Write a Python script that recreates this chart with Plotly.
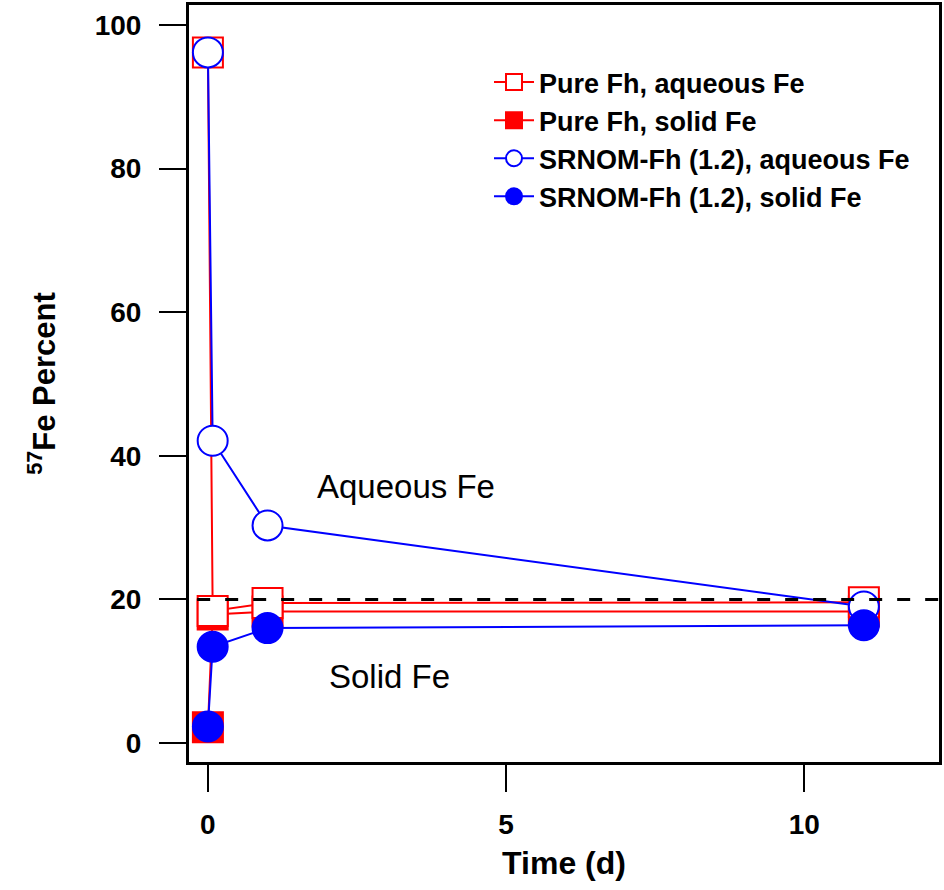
import plotly.graph_objects as go

# ---- data ----
time_d = [0.0, 0.08, 1.0, 11.0]
pure_aqueous = [96.2, 18.4, 19.5, 19.6]
pure_solid = [2.2, 17.9, 18.3, 18.3]
srnom_aqueous = [96.2, 42.1, 30.3, 19.0]
srnom_solid = [2.3, 13.4, 16.0, 16.4]

ref_x = [-0.18, 12.25]
ref_y = [20, 20]

x_ticks = [0, 5, 10]
y_ticks = [0, 20, 40, 60, 80, 100]

RED = "#FF0000"
BLUE = "#0000FF"
FONT = "Liberation Sans, Arial, sans-serif"

fig = go.Figure()

# draw order: pure solid first (hidden under open squares), then pure aqueous,
# then SRNOM aqueous, SRNOM solid; legend order set via legendrank
fig.add_trace(go.Scatter(
    x=time_d, y=pure_solid, mode="lines+markers", name="Pure Fh, solid Fe",
    line=dict(color=RED, width=2),
    marker=dict(symbol="square", size=30, color=RED, line=dict(color=RED, width=2)),
    legendrank=2,
))
fig.add_trace(go.Scatter(
    x=time_d, y=pure_aqueous, mode="lines+markers", name="Pure Fh, aqueous Fe",
    line=dict(color=RED, width=2),
    marker=dict(symbol="square", size=30, color="white", line=dict(color=RED, width=2)),
    legendrank=1,
))
fig.add_trace(go.Scatter(
    x=time_d, y=srnom_aqueous, mode="lines+markers", name="SRNOM-Fh (1.2), aqueous Fe",
    line=dict(color=BLUE, width=2),
    marker=dict(symbol="circle", size=30, color="white", line=dict(color=BLUE, width=2)),
    legendrank=3,
))
fig.add_trace(go.Scatter(
    x=time_d, y=srnom_solid, mode="lines+markers", name="SRNOM-Fh (1.2), solid Fe",
    line=dict(color=BLUE, width=2),
    marker=dict(symbol="circle", size=30, color=BLUE, line=dict(color=BLUE, width=2)),
    legendrank=4,
))
# dashed reference line on top
fig.add_trace(go.Scatter(
    x=ref_x, y=ref_y, mode="lines", showlegend=False, hoverinfo="skip",
    line=dict(color="black", width=3, dash="13px,15px"),
))

fig.add_annotation(x=1.79, y=35.7, xref="x", yref="y", text="Aqueous Fe",
                   showarrow=False, xanchor="left", yanchor="middle",
                   font=dict(family=FONT, size=33, color="black"))
fig.add_annotation(x=2.0, y=9.2, xref="x", yref="y", text="Solid Fe",
                   showarrow=False, xanchor="left", yanchor="middle",
                   font=dict(family=FONT, size=33, color="black"))

axis_common = dict(
    showline=True, linecolor="black", linewidth=3, mirror=True,
    ticks="outside", ticklen=27, tickwidth=2, tickcolor="black",
    showgrid=False, zeroline=False,
    tickfont=dict(family=FONT, size=28, color="black", weight="bold"),
)

fig.update_xaxes(
    range=[-0.317, 12.26], tickvals=x_ticks, ticktext=[str(v) for v in x_ticks],
    title=dict(text="<b>Time (d)</b>", font=dict(family=FONT, size=32, color="black"), standoff=14),
    ticklabelstandoff=8,
    **axis_common,
)
fig.update_yaxes(
    range=[-2.65, 102.8], tickvals=y_ticks, ticktext=[str(v) for v in y_ticks],
    title=dict(text="<b><sup>57</sup>Fe Percent</b>", font=dict(family=FONT, size=31, color="black"), standoff=30),
    ticklabelstandoff=12,
    **axis_common,
)

fig.update_layout(
    width=944, height=890,
    margin=dict(l=189, r=2, t=5, b=128),
    paper_bgcolor="white", plot_bgcolor="white",
    showlegend=True,
    legend=dict(
        x=0.40, y=0.93, xanchor="left", yanchor="top",
        bgcolor="rgba(0,0,0,0)", borderwidth=0,
        font=dict(family=FONT, size=27, color="black", weight="bold"),
        tracegroupgap=0, itemwidth=40,
    ),
)

fig.write_html("out.html")
